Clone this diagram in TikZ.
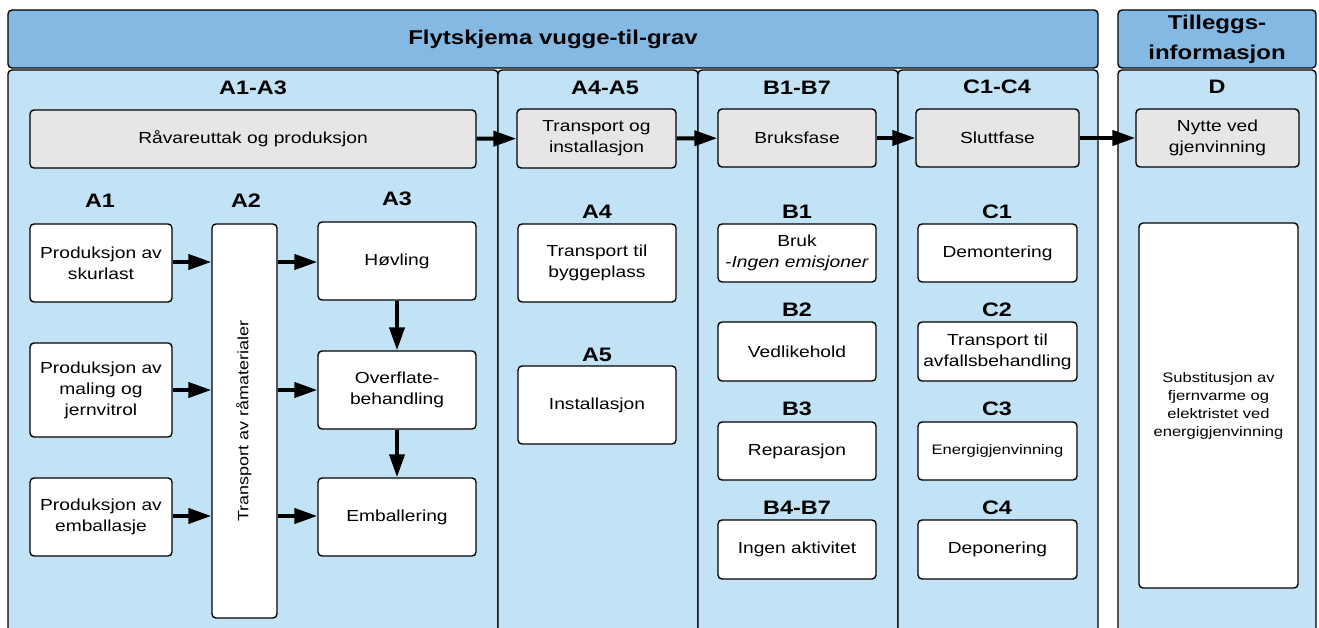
\documentclass[tikz,border=0pt]{standalone}
\usepackage{fontspec}
\setmainfont{Liberation Sans}[FakeStretch=1.2]
\usetikzlibrary{arrows.meta}
\definecolor{hdrblue}{RGB}{132,185,227}
\definecolor{panelblue}{RGB}{194,227,246}
\definecolor{boxgray}{RGB}{230,230,230}
\newcommand\fz[2]{\fontsize{#1}{#2}\selectfont}
\tikzset{
  hdr/.style={draw, line width=1.4pt, rounded corners=4pt, fill=hdrblue, inner sep=0pt, align=center, font=\fz{20}{30}\bfseries},
  panel/.style={draw, line width=1.4pt, rounded corners=4pt, fill=panelblue, inner sep=0pt},
  grp/.style={font=\fz{19.5}{22}\bfseries, inner sep=0pt},
  graybox/.style={draw, line width=1.4pt, rounded corners=4pt, fill=boxgray, inner sep=0pt, align=center, font=\fz{16}{21}},
  wbox/.style={draw, line width=1.4pt, rounded corners=4pt, fill=white, inner sep=0pt, align=center, font=\fz{16}{21}},
  arr/.style={line width=4pt, -{Triangle[length=23pt,width=15pt]}},
}
\begin{document}
\begin{tikzpicture}[x=1pt,y=-1pt]
\clip (0,0) rectangle (1319,628);
\useasboundingbox (0,0) rectangle (1319,628);
\fill[white] (0,0) rectangle (1319,628);
% headers
\node[hdr, minimum width=1090pt, minimum height=58pt] (hdr) at (553,39) {Flytskjema vugge-til-grav};
\node[hdr, minimum width=198pt, minimum height=58pt] (hdrD) at (1217,39) {Tilleggs-\\informasjon};
% panels
\node[panel, minimum width=490pt, minimum height=570pt] (pA) at (253,355) {};
\node[panel, minimum width=200pt, minimum height=570pt] (pA4) at (598,355) {};
\node[panel, minimum width=200pt, minimum height=570pt] (pB) at (798,355) {};
\node[panel, minimum width=200pt, minimum height=570pt] (pC) at (998,355) {};
\node[panel, minimum width=198pt, minimum height=570pt] (pD) at (1217,355) {};
% group labels
\node[grp] (gA) at (253,88) {A1-A3};
\node[grp] (gA4) at (605,88) {A4-A5};
\node[grp] (gB) at (797,88) {B1-B7};
\node[grp] (gC) at (997,87) {C1-C4};
\node[grp] (gD) at (1217,87) {D};
% gray boxes
\node[graybox, minimum width=446pt, minimum height=58pt] (rav) at (253,139) {Råvareuttak og produksjon};
\node[graybox, minimum width=159pt, minimum height=59pt] (tri) at (596.5,138.5) {Transport og\\installasjon};
\node[graybox, minimum width=158pt, minimum height=58pt] (bruk) at (797,138) {Bruksfase};
\node[graybox, minimum width=163pt, minimum height=58pt] (slutt) at (997.5,138) {Sluttfase};
\node[graybox, minimum width=163pt, minimum height=58pt] (nytte) at (1217.5,138) {Nytte ved\\gjenvinning};
\draw[arr] (rav) -- (tri);
\draw[arr] (tri) -- (bruk);
\draw[arr] (bruk) -- (slutt);
\draw[arr] (slutt) -- (nytte);
% A1-A3
\node[grp] (lA1) at (100,201) {A1};
\node[grp] (lA2) at (246,201) {A2};
\node[grp] (lA3) at (397,199) {A3};
\node[wbox, minimum width=142pt, minimum height=78pt] (a1a) at (101,263) {Produksjon av\\skurlast};
\node[wbox, minimum width=142pt, minimum height=94pt] (a1b) at (101,390) {Produksjon av\\maling og\\jernvitrol};
\node[wbox, minimum width=142pt, minimum height=78pt] (a1c) at (101,517) {Produksjon av\\emballasje};
\node[wbox, minimum width=65pt, minimum height=394pt] (a2) at (244.5,421) {};
\node[rotate=90, font=\fz{15}{18}, inner sep=0pt] (a2t) at (244,421) {Transport av råmaterialer};
\node[wbox, minimum width=158pt, minimum height=78pt] (a3a) at (397,261) {Høvling};
\node[wbox, minimum width=158pt, minimum height=78pt] (a3b) at (397,390) {Overflate-\\behandling};
\node[wbox, minimum width=158pt, minimum height=78pt] (a3c) at (397,517) {Emballering};
\draw[arr] (a1a.east |- 0,262) -- (a2.west |- 0,262);
\draw[arr] (a1b.east |- 0,390) -- (a2.west |- 0,390);
\draw[arr] (a1c.east |- 0,516) -- (a2.west |- 0,516);
\draw[arr] (a2.east |- 0,262) -- (a3a.west |- 0,262);
\draw[arr] (a2.east |- 0,390) -- (a3b.west |- 0,390);
\draw[arr] (a2.east |- 0,516) -- (a3c.west |- 0,516);
\draw[arr] (a3a) -- (a3b);
\draw[arr] (a3b) -- (a3c);
% A4-A5
\node[grp] (lA4) at (597,212) {A4};
\node[wbox, minimum width=158pt, minimum height=78pt] (a4) at (597,263) {Transport til\\byggeplass};
\node[grp] (lA5) at (597,355) {A5};
\node[wbox, minimum width=158pt, minimum height=78pt] (a5) at (597,405) {Installasjon};
% B
\node[grp] (lB1) at (797,212) {B1};
\node[wbox, minimum width=158pt, minimum height=58pt] (b1) at (797,253) {Bruk\\\textit{-Ingen emisjoner}};
\node[grp] (lB2) at (797,310) {B2};
\node[wbox, minimum width=158pt, minimum height=59pt] (b2) at (797,351.5) {Vedlikehold};
\node[grp] (lB3) at (797,409) {B3};
\node[wbox, minimum width=158pt, minimum height=58pt] (b3) at (797,451) {Reparasjon};
\node[grp] (lB4) at (797,508) {B4-B7};
\node[wbox, minimum width=158pt, minimum height=59pt] (b4) at (797,549.5) {Ingen aktivitet};
% C
\node[grp] (lC1) at (997,212) {C1};
\node[wbox, minimum width=159pt, minimum height=58pt] (c1) at (997.5,253) {Demontering};
\node[grp] (lC2) at (997,310) {C2};
\node[wbox, minimum width=159pt, minimum height=59pt] (c2) at (997.5,351.5) {Transport til\\avfallsbehandling};
\node[grp] (lC3) at (997,409) {C3};
\node[wbox, minimum width=159pt, minimum height=58pt, font=\fz{13.8}{18}] (c3) at (997.5,451) {Energigjenvinning};
\node[grp] (lC4) at (997,508) {C4};
\node[wbox, minimum width=159pt, minimum height=59pt] (c4) at (997.5,549.5) {Deponering};
% D
\node[wbox, minimum width=159pt, minimum height=365pt, font=\fz{13.8}{18}] (d) at (1218.5,405.5) {Substitusjon av\\fjernvarme og\\elektristet ved\\energigjenvinning};
\end{tikzpicture}
\end{document}
